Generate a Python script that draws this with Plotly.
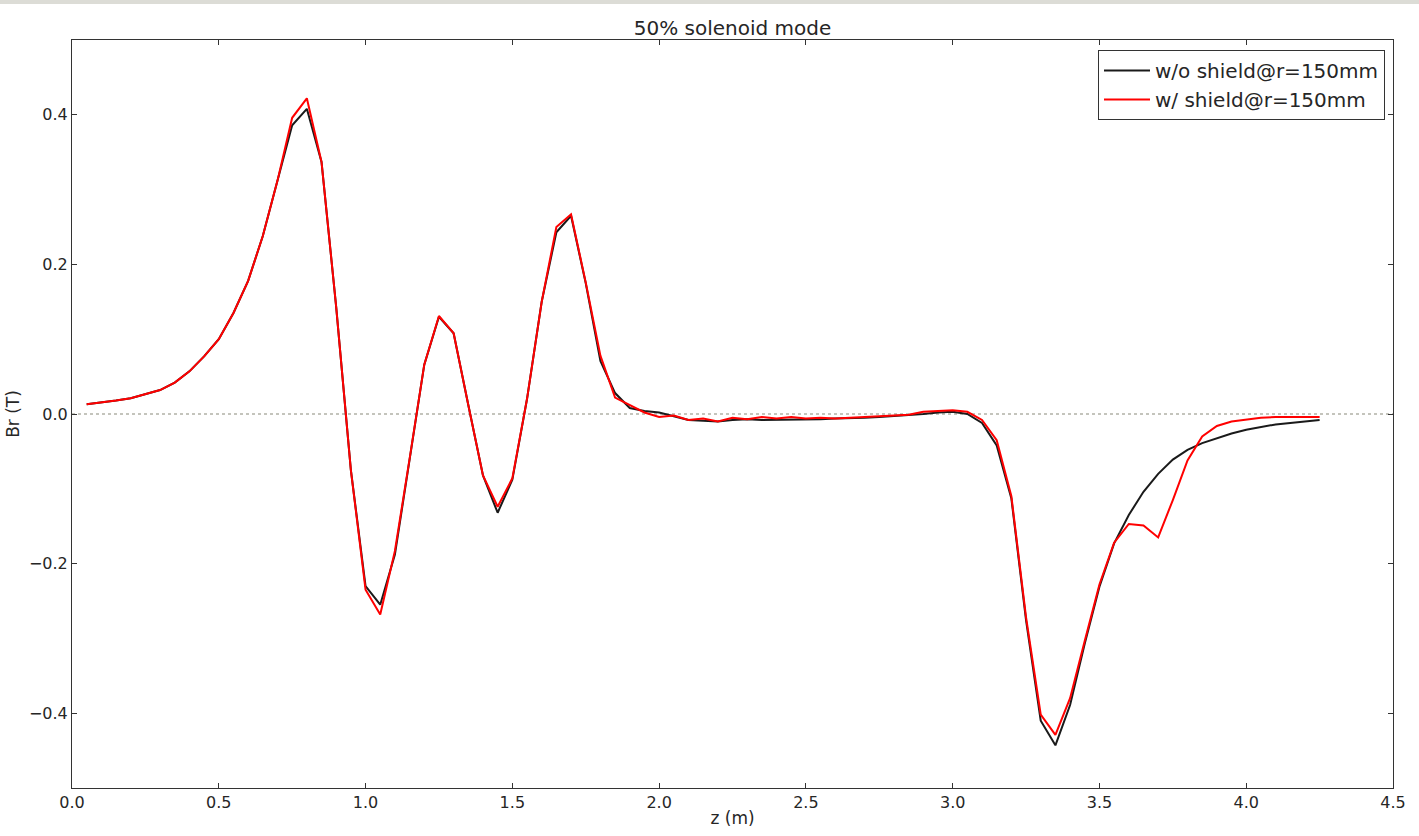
import plotly.graph_objects as go

# Axial positions (m)
z = [round(0.05 * i, 2) for i in range(1, 86)]

# Radial field Br (T) at r = 150 mm, without shield
br_no_shield = [
    0.013, 0.015, 0.018, 0.021, 0.026, 0.032, 0.042, 0.057, 0.077, 0.100,
    0.135, 0.178, 0.238, 0.312, 0.386, 0.408, 0.337, 0.143, -0.075, -0.230,
    -0.255, -0.188, -0.062, 0.066, 0.130, 0.108, 0.012, -0.082, -0.132, -0.088,
    0.020, 0.150, 0.243, 0.265, 0.175, 0.071, 0.028, 0.008, 0.004, 0.002,
    -0.003, -0.008, -0.009, -0.010, -0.008, -0.007, -0.008, -0.008, -0.008, -0.007,
    -0.007, -0.006, -0.006, -0.005, -0.004, -0.003, -0.002, 0.000, 0.002, 0.003,
    0.000, -0.012, -0.042, -0.113, -0.276, -0.410, -0.443, -0.389, -0.307, -0.231,
    -0.173, -0.135, -0.104, -0.080, -0.061, -0.048, -0.039, -0.032, -0.026, -0.021,
    -0.017, -0.014, -0.012, -0.010, -0.008,
]

# Radial field Br (T) at r = 150 mm, with shield
br_shield = [
    0.013, 0.015, 0.018, 0.021, 0.026, 0.032, 0.042, 0.057, 0.077, 0.100,
    0.135, 0.178, 0.238, 0.312, 0.396, 0.422, 0.337, 0.143, -0.075, -0.235,
    -0.268, -0.183, -0.060, 0.066, 0.131, 0.108, 0.012, -0.082, -0.124, -0.086,
    0.020, 0.150, 0.250, 0.267, 0.176, 0.078, 0.022, 0.012, 0.002, -0.004,
    -0.002, -0.008, -0.006, -0.010, -0.005, -0.007, -0.004, -0.006, -0.004, -0.006,
    -0.005, -0.006, -0.005, -0.005, -0.004, -0.003, -0.001, 0.003, 0.004, 0.005,
    0.003, -0.008, -0.035, -0.110, -0.272, -0.402, -0.429, -0.380, -0.303, -0.228,
    -0.172, -0.147, -0.149, -0.165, -0.115, -0.062, -0.030, -0.016, -0.010, -0.007,
    -0.005, -0.004, -0.004, -0.004, -0.004,
]

x_ticks = [0.0, 0.5, 1.0, 1.5, 2.0, 2.5, 3.0, 3.5, 4.0, 4.5]
y_ticks = [-0.4, -0.2, 0.0, 0.2, 0.4]

font_family = "DejaVu Sans, Verdana, sans-serif"
text_color = "#262626"

fig = go.Figure()
fig.add_trace(go.Scatter(
    x=z, y=br_no_shield, mode="lines", name="w/o shield@r=150mm",
    line=dict(color="#1a1a1a", width=2),
))
fig.add_trace(go.Scatter(
    x=z, y=br_shield, mode="lines", name="w/ shield@r=150mm",
    line=dict(color="#ff0000", width=2),
))

# dotted zero reference line
fig.add_shape(type="line", xref="paper", x0=0, x1=1, yref="y", y0=0, y1=0,
              line=dict(color="#8a8a7a", width=1.2, dash="dot"), layer="below")

# thin grey band along the top edge of the page
fig.add_shape(type="rect", xref="paper", yref="paper",
              x0=-0.06, x1=1.03, y0=1 + 36 / 748, y1=1 + 41 / 748,
              fillcolor="#dcdcd6", line=dict(width=0), layer="below")

fig.update_layout(
    width=1419, height=836,
    margin=dict(l=72, r=26, t=40, b=48, autoexpand=False),
    paper_bgcolor="white", plot_bgcolor="white",
    font=dict(family=font_family, size=16, color=text_color),
    title=dict(text="50% solenoid mode", x=0.5, xref="paper",
               y=1 - 28 / 836, yanchor="middle",
               font=dict(size=20, color=text_color)),
    showlegend=True,
    legend=dict(x=(1385 - 72) / 1321, xanchor="right",
                y=1 - 10 / 748, yanchor="top",
                bgcolor="white", bordercolor="#333333", borderwidth=1,
                font=dict(size=20, color=text_color),
                itemwidth=46),
)

fig.update_xaxes(
    range=[0, 4.5], tickvals=x_ticks, ticktext=[f"{v:.1f}" for v in x_ticks],
    showgrid=False, zeroline=False, automargin=False,
    showline=True, linecolor="#333333", linewidth=1, mirror="ticks",
    ticks="inside", ticklen=5, tickcolor="#333333",
    tickfont=dict(size=16),
    title=dict(text="z (m)", font=dict(size=17), standoff=0),
)
fig.update_yaxes(
    range=[-0.5, 0.5], tickvals=y_ticks,
    ticktext=[f"{v:.1f}".replace("-", "\u2212") for v in y_ticks],
    showgrid=False, zeroline=False, automargin=False,
    showline=True, linecolor="#333333", linewidth=1, mirror="ticks",
    ticks="inside", ticklen=5, tickcolor="#333333",
    tickfont=dict(size=16),
    title=dict(text="Br (T)", font=dict(size=17), standoff=4),
)

fig.write_html("out.html")
